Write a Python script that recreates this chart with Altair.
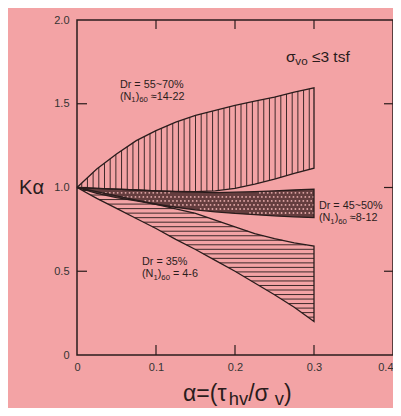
import altair as alt
import numpy as np
import pandas as pd

# ---- data ----
alpha = [0, 0.025, 0.05, 0.075, 0.1, 0.125, 0.15, 0.175, 0.2, 0.225, 0.25, 0.275, 0.3]
# Dr = 55~70 %
dense_upper = [1.0, 1.11, 1.20, 1.28, 1.34, 1.39, 1.43, 1.46, 1.49, 1.515, 1.54, 1.57, 1.595]
dense_lower = [1.0, 0.995, 0.99, 0.985, 0.98, 0.977, 0.975, 0.98, 0.995, 1.02, 1.05, 1.085, 1.115]
# Dr = 45~50 %
medium_upper = [1.0, 0.995, 0.99, 0.985, 0.98, 0.975, 0.972, 0.97, 0.972, 0.975, 0.98, 0.985, 0.99]
medium_lower = [1.0, 0.965, 0.94, 0.92, 0.9, 0.882, 0.867, 0.855, 0.845, 0.838, 0.83, 0.825, 0.82]
# Dr = 35 %
loose_upper = [1.0, 0.975, 0.95, 0.925, 0.9, 0.873, 0.845, 0.805, 0.765, 0.725, 0.695, 0.67, 0.65]
loose_lower = [1.0, 0.935, 0.875, 0.815, 0.755, 0.69, 0.63, 0.565, 0.5, 0.43, 0.36, 0.285, 0.2]

x_ticks = [0, 0.1, 0.2, 0.3, 0.4]
y_ticks = [0, 0.5, 1.0, 1.5, 2.0]
inner_x_ticks = [0.1, 0.2, 0.3]
inner_y_ticks = [0.5, 1.0, 1.5]

# annotation texts, split into (text, is_subscript) pieces
ann_pieces = [
    [("Dr = 55~70%", 0)],
    [("(N", 0), ("1", 1), (")", 0), ("60", 1), (" \u224814-22", 0)],
    [("Dr = 45~50%", 0)],
    [("(N", 0), ("1", 1), (")", 0), ("60", 1), (" \u22488-12", 0)],
    [("Dr = 35%", 0)],
    [("(N", 0), ("1", 1), (")", 0), ("60", 1), (" = 4-6", 0)],
]
ann_a = [0.0544, 0.0544, 0.3063, 0.3063, 0.0823, 0.0823]
ann_k = [1.597, 1.525, 0.872, 0.800, 0.537, 0.466]

cond_pieces = [("\u03c3", 0), ("vo", 1), (" \u22643 tsf", 0)]
cond_a = [0.2646]
cond_k = [1.749]

x_title_pieces = [("\u03b1=(\u03c4", 0), ("hv", 1), ("/\u03c3 ", 0), ("v", 1), (")", 0)]

# ---- styling ----
BG = "#F3A3A5"
INK = "#2a1c1c"
FONT = "Liberation Sans"

CHAR_W = {'(': 0.333, ')': 0.333, 'N': 0.722, 'D': 0.722, 'r': 0.333, ' ': 0.278,
          '=': 0.584, '~': 0.584, '%': 0.889, '\u2248': 0.584, '-': 0.333, '\u2264': 0.584,
          't': 0.278, 's': 0.5, 'f': 0.278, 'v': 0.5, 'o': 0.556, 'h': 0.556, '/': 0.278,
          '\u03b1': 0.60, '\u03c4': 0.47, '\u03c3': 0.60}


def text_width(s, size):
    return sum(CHAR_W.get(c, 0.556) for c in s) * size


x_scale = alt.Scale(domain=[0, 0.4], nice=False, zero=False)
y_scale = alt.Scale(domain=[0, 2], nice=False, zero=False)

x_axis = alt.Axis(values=x_ticks, labelExpr="datum.value == 0 ? '0' : format(datum.value, '.1f')",
                  title=None,
                  labelAlign={"condition": {"test": "datum.value >= 0.39", "value": "right"},
                              "value": "center"},
                  labelFont=FONT, labelFontSize=11, labelColor="#333333", labelPadding=6,
                  labelFlush=False, labelOverlap=False, ticks=False, domain=False, grid=False)
y_axis = alt.Axis(values=y_ticks, labelExpr="datum.value == 0 ? '0' : format(datum.value, '.1f')",
                  title="K\u03b1", titleFontSize=20, titleFont=FONT, titleFontWeight="normal",
                  titleColor=INK, titleAngle=0, titleAlign="center", titleBaseline="middle",
                  titleX=-46, titleY=167,
                  labelFont=FONT, labelFontSize=11, labelColor="#333333", labelPadding=8,
                  ticks=False, domain=False, grid=False)


def X(field, **kw):
    return alt.X(field, type="quantitative", scale=x_scale, axis=x_axis, **kw)


def Y(field, **kw):
    return alt.Y(field, type="quantitative", scale=y_scale, axis=y_axis, **kw)


def rich_text(pieces, df, size, x_enc, y_enc, sub_ratio=0.72, sub_drop=0.3):
    """one text layer per piece, shifted horizontally by the width of what precedes it"""
    layers = []
    cur = 0.0
    for txt, sub in pieces:
        fs = size * sub_ratio if sub else size
        dy = size * sub_drop if sub else 0
        lead = len(txt) - len(txt.lstrip(" "))
        cur += text_width(" " * lead, fs)
        body = txt.strip(" ")
        layers.append(
            alt.Chart(df).mark_text(align="left", baseline="alphabetic", font=FONT, fontSize=fs,
                                    dx=cur, dy=dy, color=INK)
            .encode(x=x_enc, y=y_enc, text=alt.value(body))
        )
        cur += text_width(txt.lstrip(" "), fs)
    return layers


# outlines of the three bands (closed polygons)
outline_rows = []
for name, up, lo in [("dense", dense_upper, dense_lower),
                     ("medium", medium_upper, medium_lower),
                     ("loose", loose_upper, loose_lower)]:
    xs = alpha + alpha[::-1]
    ys = up + lo[::-1]
    for i, (a, k) in enumerate(zip(xs, ys)):
        outline_rows.append({"band": name, "a": a, "k": k, "o": i})
outline = pd.DataFrame(outline_rows)

# vertical hatching for the dense band
vx = np.arange(0.006, 0.3, 0.0072)
vhatch = pd.DataFrame({"a": vx,
                       "k0": np.interp(vx, alpha, dense_lower),
                       "k1": np.interp(vx, alpha, dense_upper)})

# horizontal hatching for the loose band
hk = np.arange(0.226, 0.985, 0.027)
lo_rev_k = np.array(loose_lower[::-1])
up_rev_k = np.array(loose_upper[::-1])
a_rev = np.array(alpha[::-1])
xl = np.interp(hk, lo_rev_k, a_rev)
xr = np.where(hk <= loose_upper[-1], 0.3, np.interp(hk, up_rev_k, a_rev))
hhatch = pd.DataFrame({"k": hk, "a0": xl, "a1": xr})

# cross-hatched (dotted) medium band
medium = pd.DataFrame({"a": alpha, "lo": medium_lower, "up": medium_upper})
dots = []
for j, kk in enumerate(np.arange(0.8, 1.0, 0.024)):
    off = 0.0025 if j % 2 else 0.0
    for aa in np.arange(0.004 + off, 0.3, 0.005):
        lo = np.interp(aa, alpha, medium_lower)
        up = np.interp(aa, alpha, medium_upper)
        if lo + 0.008 < kk < up - 0.008:
            dots.append({"a": aa, "k": kk})
dots = pd.DataFrame(dots)

xt = pd.DataFrame({"a": inner_x_ticks})
yt = pd.DataFrame({"k": inner_y_ticks})

medium_fill = alt.Chart(medium).mark_area(color="#4a2c2c", opacity=0.85).encode(
    x=X("a"), y=Y("lo"), y2="up")
medium_dots = alt.Chart(dots).mark_point(filled=True, shape="circle", size=3.5, color="#f0b4b4",
                                         opacity=0.9).encode(x=X("a"), y=Y("k"))
v_lines = alt.Chart(vhatch).mark_rule(color=INK, strokeWidth=0.9).encode(
    x=X("a"), y=Y("k0"), y2="k1")
h_lines = alt.Chart(hhatch).mark_rule(color=INK, strokeWidth=0.9).encode(
    y=Y("k"), x=X("a0"), x2="a1")
outlines = alt.Chart(outline).mark_line(color=INK, strokeWidth=1.3).encode(
    x=X("a"), y=Y("k"), order="o:Q", detail="band:N")

tick_b = alt.Chart(xt).mark_rule(color=INK, strokeWidth=1.2).encode(
    x=X("a"), y=alt.value(335), y2=alt.value(325))
tick_t = alt.Chart(xt).mark_rule(color=INK, strokeWidth=1.2).encode(
    x=X("a"), y=alt.value(0), y2=alt.value(9))
tick_l = alt.Chart(yt).mark_rule(color=INK, strokeWidth=1.2).encode(
    y=Y("k"), x=alt.value(0), x2=alt.value(10))
tick_r = alt.Chart(yt).mark_rule(color=INK, strokeWidth=1.2).encode(
    y=Y("k"), x=alt.value(316), x2=alt.value(307))

text_layers = []
for pieces, a, k in zip(ann_pieces, ann_a, ann_k):
    df = pd.DataFrame({"a": [a], "k": [k]})
    text_layers += rich_text(pieces, df, 10.8, X("a"), Y("k"), sub_ratio=0.72, sub_drop=0.25)
cond_df = pd.DataFrame({"a": cond_a, "k": cond_k})
text_layers += rich_text(cond_pieces, cond_df, 15.5, X("a"), Y("k"), sub_ratio=0.75, sub_drop=0.22)
title_df = pd.DataFrame({"i": [0]})
text_layers += rich_text(x_title_pieces, title_df, 23, alt.value(106), alt.value(381),
                         sub_ratio=0.8, sub_drop=0.17)

chart = alt.layer(
    medium_fill, medium_dots, v_lines, h_lines, outlines,
    tick_b, tick_t, tick_l, tick_r, *text_layers
).properties(
    width=316, height=335, autosize="none",
    padding={"left": 69, "top": 12, "right": 0, "bottom": 53},
    background=BG,
).configure_view(stroke=INK, strokeWidth=1.5, fill=BG)

chart.save("out.html", embed_options={"renderer": "svg", "actions": False})
